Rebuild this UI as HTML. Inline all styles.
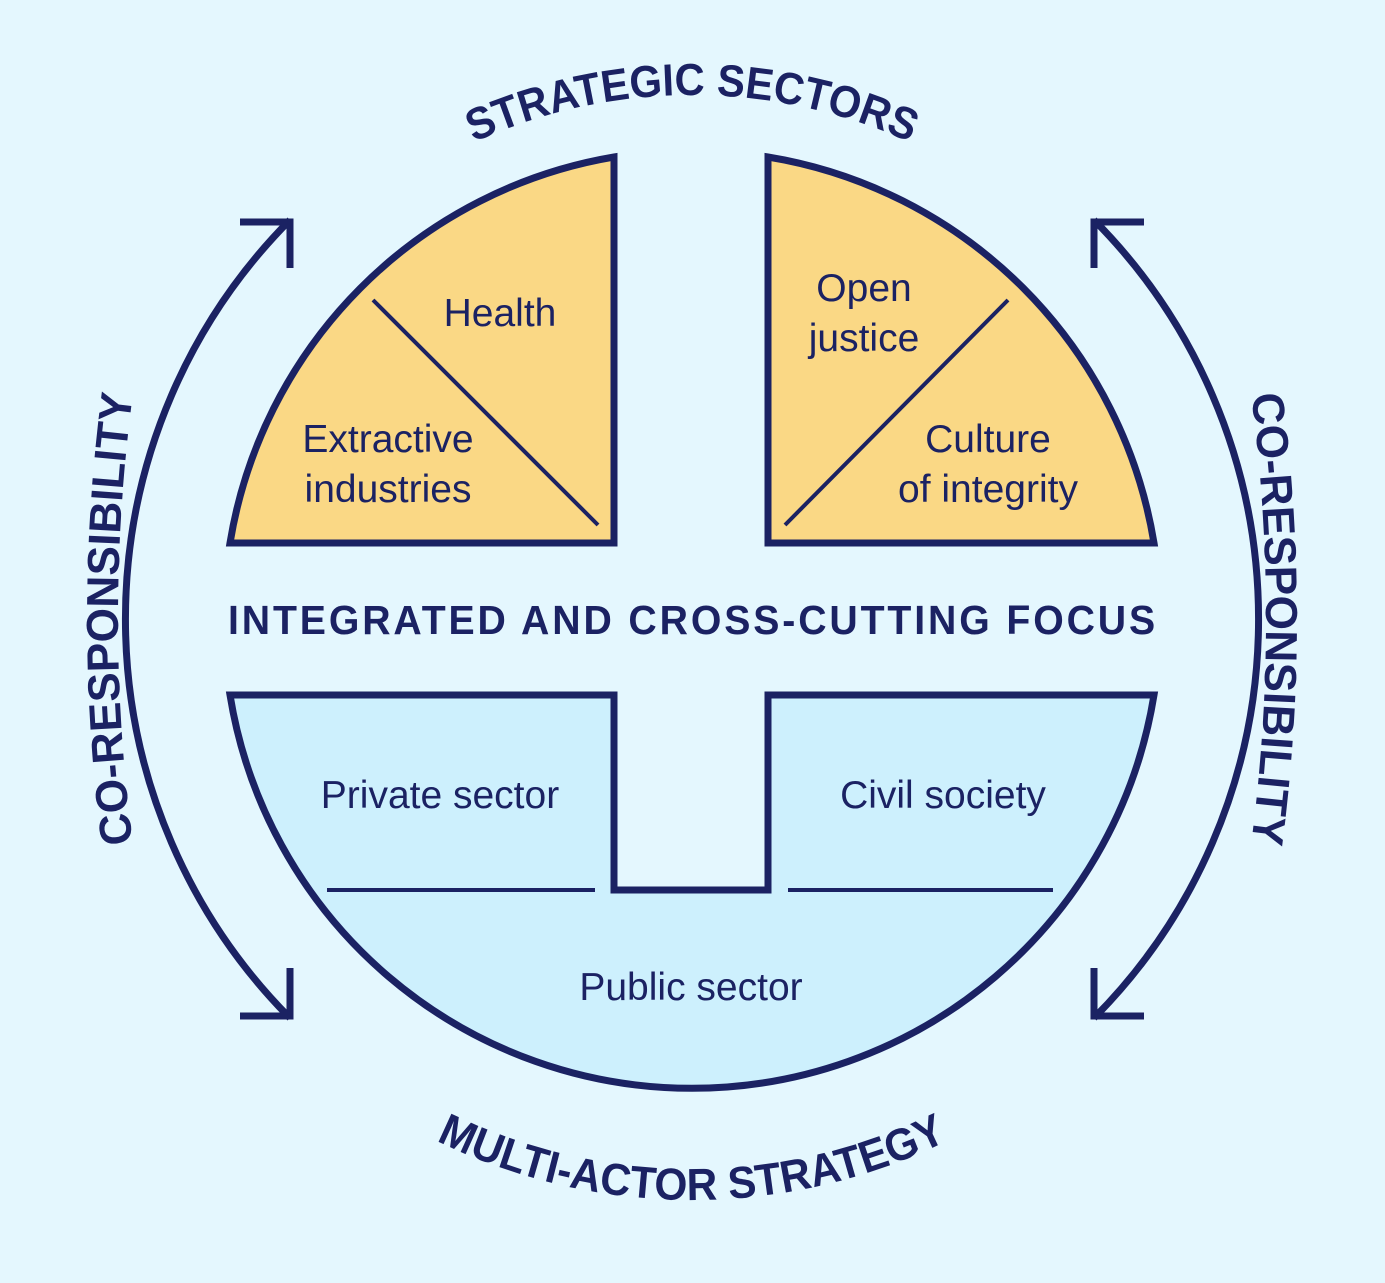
<!DOCTYPE html>
<html><head><meta charset="utf-8"><style>
html,body{margin:0;padding:0;background:#e4f7fe;}
svg{display:block;}
text{font-family:"Liberation Sans",sans-serif;fill:#1b2263;}
.t{font-size:39px;}
.b{font-weight:bold;font-size:41px;letter-spacing:3px;}
.c{font-weight:bold;font-size:45px;}
</style></head><body>
<svg width="1385" height="1283" viewBox="0 0 1385 1283">
<rect width="1385" height="1283" fill="#e4f7fe"/>
<defs>
<path id="top" d="M 167 620 A 525 525 0 0 1 1217 620"/>
<path id="bot" d="M 112 620 A 580 580 0 0 0 1272 620"/>
<path id="left" d="M 133 845 A 1710 1710 0 0 1 133 393"/>
<path id="right" d="M 1251 393 A 1710 1710 0 0 1 1251 845"/>
</defs>
<g stroke="#1b2263" stroke-width="7" stroke-linejoin="miter">
<path d="M 614 157 L 614 543 L 230 543 A 468 468 0 0 1 614 157 Z" fill="#fad885"/>
<path d="M 768 157 L 768 543 L 1154 543 A 468 468 0 0 0 768 157 Z" fill="#fad885"/>
<path d="M 230 695 L 614 695 L 614 890 L 768 890 L 768 695 L 1154 695 A 468 468 0 0 1 230 695 Z" fill="#cdf0fd"/>
</g>
<g stroke="#1b2263" stroke-width="4">
<line x1="373" y1="300" x2="598" y2="525"/>
<line x1="1008" y1="300" x2="785" y2="525"/>
<line x1="327" y1="890" x2="595" y2="890"/>
<line x1="788" y1="890" x2="1053" y2="890"/>
</g>
<g stroke="#1b2263" stroke-width="7" fill="none" stroke-linecap="butt">
<path d="M 290 220 A 566 566 0 0 0 290 1018"/>
<path d="M 1094 220 A 566 566 0 0 1 1094 1018"/>
<path d="M 240 222 L 290 222 L 290 268"/>
<path d="M 240 1016 L 290 1016 L 290 968"/>
<path d="M 1144 222 L 1094 222 L 1094 268"/>
<path d="M 1144 1016 L 1094 1016 L 1094 968"/>
</g>
<text class="t" x="500" y="326" text-anchor="middle">Health</text>
<text class="t" x="388" y="452" text-anchor="middle">Extractive</text>
<text class="t" x="388" y="502" text-anchor="middle">industries</text>
<text class="t" x="864" y="301" text-anchor="middle">Open</text>
<text class="t" x="864" y="351" text-anchor="middle">justice</text>
<text class="t" x="988" y="452" text-anchor="middle">Culture</text>
<text class="t" x="988" y="502" text-anchor="middle">of integrity</text>
<text class="t" x="440" y="808" text-anchor="middle">Private sector</text>
<text class="t" x="943" y="808" text-anchor="middle">Civil society</text>
<text class="t" x="691" y="1000" text-anchor="middle">Public sector</text>
<text class="b" x="693" y="634" text-anchor="middle" textLength="930" lengthAdjust="spacingAndGlyphs">INTEGRATED AND CROSS-CUTTING FOCUS</text>
<text class="c"><textPath href="#top" startOffset="50%" text-anchor="middle" textLength="450" lengthAdjust="spacingAndGlyphs">STRATEGIC SECTORS</textPath></text>
<text class="c"><textPath href="#bot" startOffset="50%" text-anchor="middle" textLength="530" lengthAdjust="spacingAndGlyphs">MULTI-ACTOR STRATEGY</textPath></text>
<text class="c"><textPath href="#left" startOffset="50%" text-anchor="middle" textLength="450" lengthAdjust="spacingAndGlyphs">CO-RESPONSIBILITY</textPath></text>
<text class="c"><textPath href="#right" startOffset="50%" text-anchor="middle" textLength="450" lengthAdjust="spacingAndGlyphs">CO-RESPONSIBILITY</textPath></text>
</svg>
</body></html>
